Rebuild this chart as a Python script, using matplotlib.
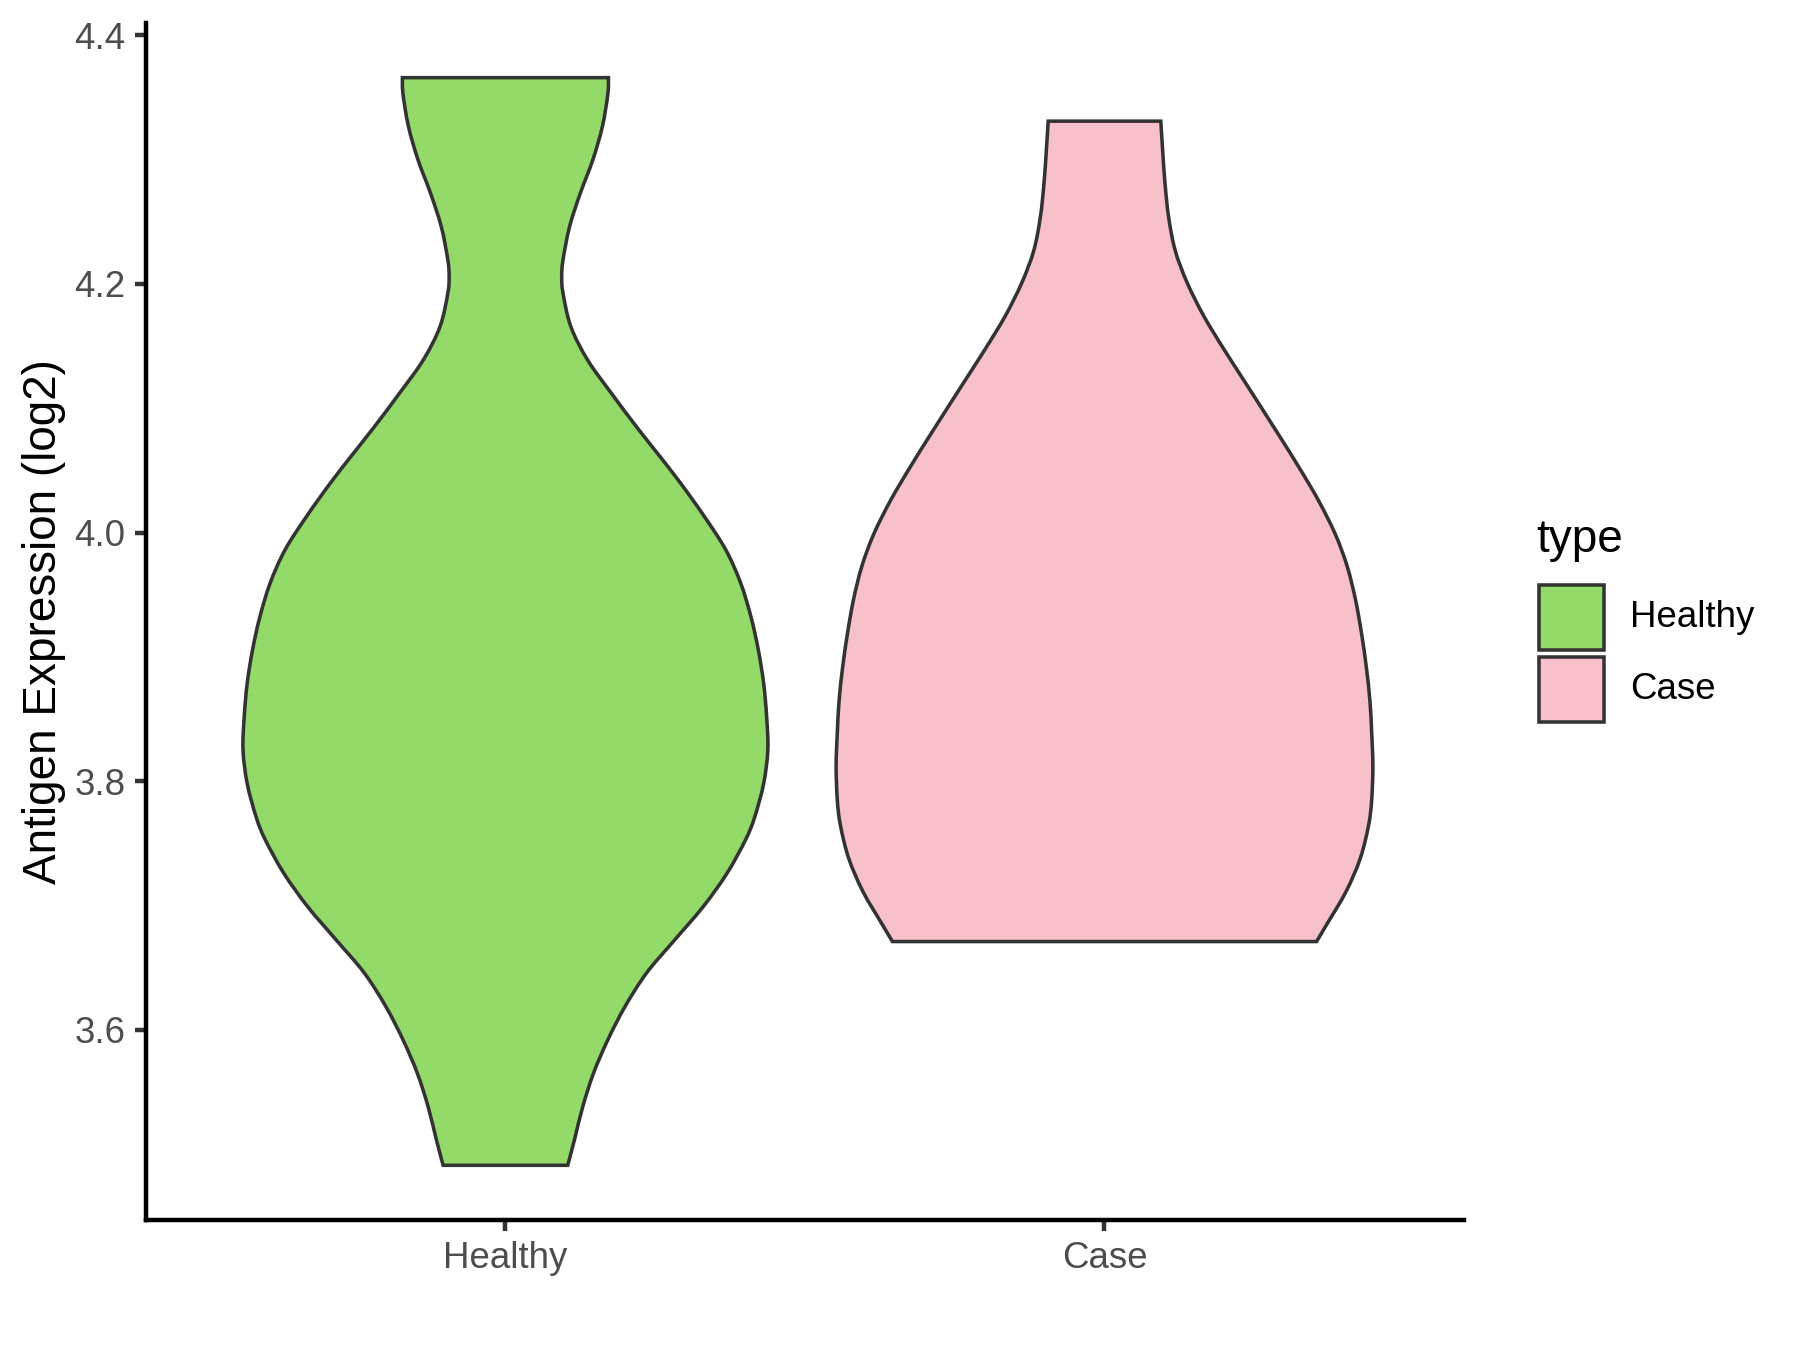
import matplotlib
matplotlib.use("Agg")
import matplotlib.pyplot as plt
from matplotlib.path import Path
from matplotlib.patches import PathPatch, Rectangle

# categories and fills
categories = ["Healthy", "Case"]
fill_colors = ["#93DA69", "#F7C0CB"]

# violin outlines: expression value (log2) and half width
healthy_y = [3.491, 3.511, 3.538, 3.565, 3.592, 3.619, 3.646, 3.672, 3.699,
             3.726, 3.753, 3.771, 3.798, 3.825, 3.852, 3.879, 3.906, 3.932,
             3.959, 3.986, 4.013, 4.040, 4.063, 4.085, 4.112, 4.139, 4.166,
             4.193, 4.206, 4.219, 4.246, 4.273, 4.300, 4.327, 4.353, 4.366]
healthy_half = [0.104, 0.115, 0.129, 0.147, 0.171, 0.200, 0.236, 0.282, 0.330,
                0.370, 0.401, 0.416, 0.431, 0.438, 0.436, 0.431, 0.422, 0.410,
                0.393, 0.368, 0.332, 0.292, 0.255, 0.219, 0.177, 0.137, 0.109,
                0.096, 0.094, 0.096, 0.107, 0.125, 0.146, 0.162, 0.171, 0.172]

case_y = [3.671, 3.684, 3.711, 3.738, 3.765, 3.785, 3.812, 3.839, 3.865,
          3.892, 3.919, 3.946, 3.973, 3.999, 4.026, 4.053, 4.080, 4.120,
          4.147, 4.174, 4.201, 4.227, 4.254, 4.281, 4.308, 4.331]
case_half = [0.354, 0.370, 0.403, 0.427, 0.441, 0.446, 0.448, 0.446, 0.443,
             0.437, 0.429, 0.419, 0.405, 0.385, 0.357, 0.324, 0.289, 0.236,
             0.200, 0.166, 0.138, 0.118, 0.107, 0.101, 0.097, 0.094]

y_ticks = [3.6, 3.8, 4.0, 4.2, 4.4]


def curve_through(pts):
    # Catmull-Rom style bezier segments passing through every point
    verts, codes = [], []
    n = len(pts)
    for i in range(n - 1):
        p0 = pts[max(i - 1, 0)]
        p1 = pts[i]
        p2 = pts[i + 1]
        p3 = pts[min(i + 2, n - 1)]
        c1 = (p1[0] + (p2[0] - p0[0]) / 6, p1[1] + (p2[1] - p0[1]) / 6)
        c2 = (p2[0] - (p3[0] - p1[0]) / 6, p2[1] - (p3[1] - p1[1]) / 6)
        verts += [c1, c2, p2]
        codes += [Path.CURVE4] * 3
    return verts, codes


def violin_path(pos, ys, hw):
    right = [(pos + w, y) for w, y in zip(hw, ys)]
    left = [(pos - w, y) for w, y in zip(hw, ys)][::-1]
    verts, codes = [right[0]], [Path.MOVETO]
    v, c = curve_through(right)
    verts += v
    codes += c
    verts.append(left[0])
    codes.append(Path.LINETO)
    v, c = curve_through(left)
    verts += v
    codes += c
    verts.append(right[0])
    codes.append(Path.CLOSEPOLY)
    return Path(verts, codes)


plt.rcParams['font.family'] = ['Liberation Sans', 'DejaVu Sans']

fig = plt.figure(figsize=(6, 4.5), dpi=300)
ax = fig.add_axes([0.0811, 0.0963, 0.7322, 0.8867])

profiles = [(healthy_y, healthy_half), (case_y, case_half)]
for pos, (ys, hw), color in zip([1, 2], profiles, fill_colors):
    ax.add_patch(PathPatch(violin_path(pos, ys, hw), facecolor=color,
                           edgecolor="#333333", lw=0.85))

ax.set_xlim(0.4, 2.6)
ax.set_ylim(3.447, 4.410)
ax.set_xticks([1, 2])
ax.set_xticklabels(categories)
ax.set_yticks(y_ticks)
ax.set_yticklabels([f"{t:.1f}" for t in y_ticks])

for side in ["top", "right"]:
    ax.spines[side].set_visible(False)
for side in ["left", "bottom"]:
    ax.spines[side].set_linewidth(1.07)
    ax.spines[side].set_color("black")

ax.tick_params(axis="both", length=2.75, width=1.07, color="#333333",
               labelsize=8.8, labelcolor="#4D4D4D", pad=2.2)
ax.set_ylabel("Antigen Expression (log2)", fontsize=11, color="black", labelpad=2)

# legend drawn in figure coordinates, ggplot style
W, H = 1800.0, 1350.0
fig.text(1536 / W, 1 - 540 / H, "type", fontsize=11, ha="left", va="center")
key_tops = [585, 657]
for top, color, label in zip(key_tops, fill_colors, categories):
    fig.add_artist(Rectangle((1539 / W, 1 - (top + 65) / H), 65 / W, 65 / H,
                             transform=fig.transFigure, facecolor=color,
                             edgecolor="#333333", lw=0.85))
    fig.text(1630 / W, 1 - (top + 32.5) / H, label, fontsize=8.8,
             ha="left", va="center")

fig.savefig("out.png", dpi=300)
